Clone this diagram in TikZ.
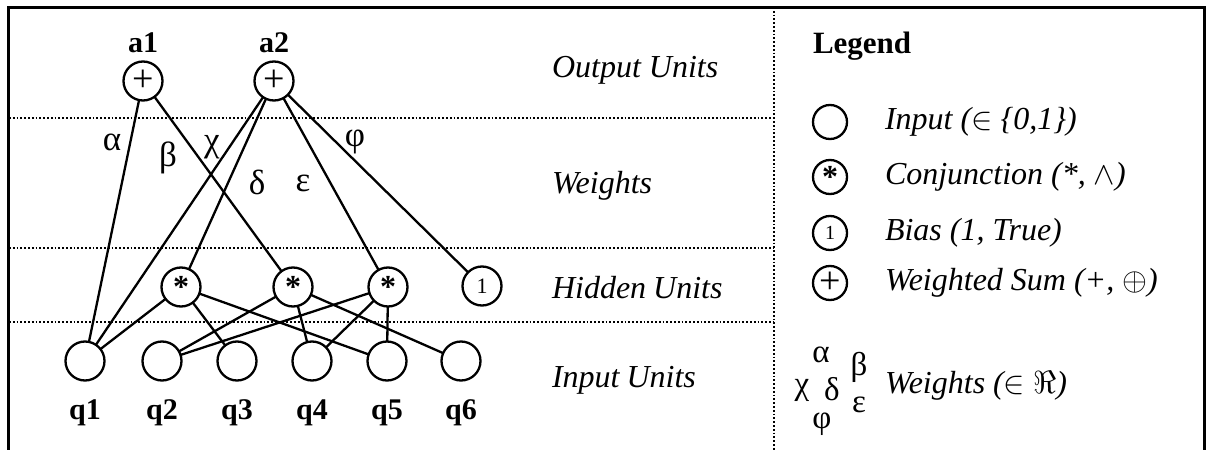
\RequirePackage{fix-cm}
\documentclass[tikz,border=0pt]{standalone}
\usepackage{fontspec}
\setmainfont{Liberation Serif}
\begin{document}
\begin{tikzpicture}[x=1pt,y=-1pt,
  every node/.style={inner sep=0pt, outer sep=0pt},
  unit/.style={circle, draw, line width=2.3pt, minimum size=39pt},
  lunit/.style={circle, draw, line width=2.3pt, minimum size=34pt},
  conn/.style={line width=2.3pt},
  sep/.style={dotted, line width=1.8pt},
  frameline/.style={line width=3pt},
  lbl/.style={font=\fontsize{30}{34}\selectfont\bfseries},
  lay/.style={font=\fontsize{32}{36}\selectfont\itshape, anchor=west},
  gk/.style={font=\fontsize{35}{38}\selectfont},
  plus/.style={font=\fontsize{38}{38}\selectfont},
  star/.style={font=\fontsize{32}{32}\selectfont\bfseries}]
\useasboundingbox (0,0) rectangle (1211,450);

% frame and separators
\draw[frameline] (8,450) -- (8,7) -- (1204,7) -- (1204,450);
\draw[sep] (774,7) -- (774,450);
\foreach \yy in {118,248,322} \draw[sep] (9,\yy) -- (774,\yy);

% output units
\node[unit, plus] (a1) at (143,81) {+};
\node[unit, plus] (a2) at (274,81) {+};
\node[lbl] (la1) at (143,43) {a1};
\node[lbl] (la2) at (274,43) {a2};

% hidden units
\node[unit, star] (h1) at (181,287) {\raisebox{-8pt}{*}};
\node[unit, star] (h2) at (293,287) {\raisebox{-8pt}{*}};
\node[unit, star] (h3) at (388,287) {\raisebox{-8pt}{*}};
\node[unit, font=\fontsize{22}{22}\selectfont] (b) at (482,286) {1};

% input units
\foreach \i/\xx in {1/85,2/162,3/237,4/312,5/387,6/461} {
  \node[unit] (q\i) at (\xx,361) {};
  \node[lbl] (lq\i) at (\xx,413) {q\i};
}

% connections
\draw[conn] (a1) -- (q1);
\draw[conn] (a1) -- (h2);
\draw[conn] (a2) -- (q1);
\draw[conn] (a2) -- (h1);
\draw[conn] (a2) -- (h3);
\draw[conn] (a2) -- (b);
\draw[conn] (h1) -- (q1);
\draw[conn] (h1) -- (q3);
\draw[conn] (h1) -- (q5);
\draw[conn] (h2) -- (q2);
\draw[conn] (h2) -- (q4);
\draw[conn] (h2) -- (q6);
\draw[conn] (h3) -- (q2);
\draw[conn] (h3) -- (q4);
\draw[conn] (h3) -- (q5);

% weight labels
\node[gk] (wa) at (112,142) {α};
\node[gk] (wb) at (168,158) {β};
\node[gk] (wc) at (212,147) {χ};
\node[gk] (wd) at (257,182) {δ};
\node[gk] (we) at (303,183) {ε};
\node[gk] (wf) at (355,142) {φ};

% layer labels
\node[lay] (lo) at (552,70) {Output Units};
\node[lay] (lw) at (552,186) {Weights};
\node[lay] (lh) at (552,288) {Hidden\hspace{7pt}Units};
\node[lay] (li) at (552,380) {Input\hspace{7pt}Units};

% legend
\node[lbl, anchor=west, font=\fontsize{31}{34}\selectfont\bfseries] (leg) at (813,46) {Legend};
\node[lunit] (c1) at (830,122) {};
\node[lunit, star] (c2) at (830,177) {\raisebox{-8pt}{*}};
\node[lunit, font=\fontsize{20}{20}\selectfont] (c3) at (830,233) {1};
\node[lunit, plus] (c4) at (830,283) {+};
\node[lay] (t1) at (885,122) {Input ($\in$ \{0,1\})};
\node[lay] (t2) at (885,177) {Conjunction (*, $\wedge$)};
\node[lay] (t3) at (885,233) {Bias (1, True)};
\node[lay] (t4) at (885,283) {Weighted Sum (+, $\oplus$)};
\node[lay] (t5) at (885,386) {Weights ($\in$ $\Re$)};
\node[gk, font=\fontsize{33}{36}\selectfont] (ga) at (821,355) {α};
\node[gk, font=\fontsize{33}{36}\selectfont] (gb) at (859,367) {β};
\node[gk, font=\fontsize{33}{36}\selectfont] (gc) at (802,390) {χ};
\node[gk, font=\fontsize{33}{36}\selectfont] (gd) at (832,389) {δ};
\node[gk, font=\fontsize{33}{36}\selectfont] (ge) at (859,405) {ε};
\node[gk, font=\fontsize{33}{36}\selectfont] (gf) at (822,424) {φ};
\end{tikzpicture}
\end{document}
